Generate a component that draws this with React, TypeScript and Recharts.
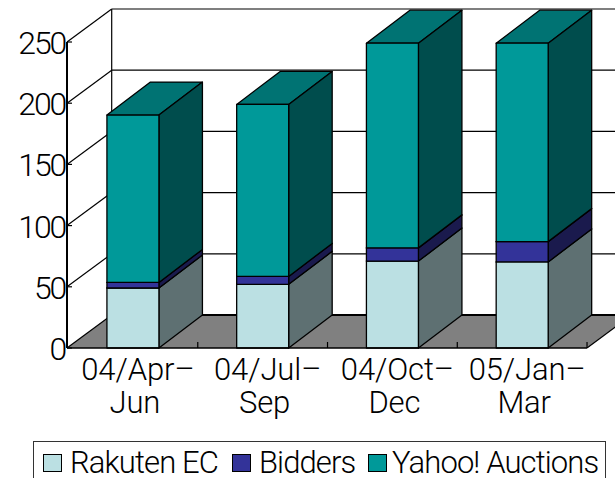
import React from 'react';
import { BarChart, Bar, XAxis, YAxis, CartesianGrid, Legend } from 'recharts';

const CATEGORIES = ['04/Apr–|Jun', '04/Jul–|Sep', '04/Oct–|Dec', '05/Jan–|Mar'];
const RAKUTEN = [49, 52, 71, 70.3];
const BIDDERS = [4.6, 6.5, 10.8, 16.6];
const YAHOO = [136.7, 140.5, 167.2, 162.1];
const Y_TICKS = [0, 50, 100, 150, 200, 250];

const WALL_X = 44.7;
const BAR_X = 43.5;
const DEPTH_Y = 33;
const BAND_HALF = 64.9;
const FONT = 'Roboto, sans-serif';
const LEGEND_SWATCH_X = [9, 198, 334];
const LEGEND_TEXT_X = [36, 225, 358];

const data = CATEGORIES.map((name, i) => ({
  name,
  rakuten: RAKUTEN[i],
  bidders: BIDDERS[i],
  yahoo: YAHOO[i],
}));

const box = (front: string, top: string, side: string) => (props: any) => {
  const { x, y, width: w, height: h } = props;
  const r = x + w;
  return (
    <g stroke="#000" strokeWidth={1.3} strokeLinejoin="round">
      <polygon points={`${x},${y} ${x + BAR_X},${y - DEPTH_Y} ${r + BAR_X},${y - DEPTH_Y} ${r},${y}`} fill={top} />
      <polygon points={`${r},${y} ${r + BAR_X},${y - DEPTH_Y} ${r + BAR_X},${y + h - DEPTH_Y} ${r},${y + h}`} fill={side} />
      <rect x={x} y={y} width={w} height={h} fill={front} />
    </g>
  );
};

// back wall, side wall and floor all hang off the horizontal grid lines
const wallLine = (props: any) => {
  const { x1, x2, y1, y, height } = props;
  const backY = y1 - DEPTH_Y;
  const isFloor = Math.abs(y1 - (y + height)) < 0.5;
  const isTop = Math.abs(y1 - y) < 0.5;
  return (
    <g key={`wall-${y1}`}>
      {isFloor && (
        <polygon
          points={`${x1},${y1} ${x1 + WALL_X},${backY} ${x2 + WALL_X},${backY} ${x2},${y1}`}
          fill="#808080"
          stroke="none"
        />
      )}
      <line x1={x1} y1={y1} x2={x1 + WALL_X} y2={backY} stroke="#000" strokeWidth={1.2} />
      <line x1={x1 + WALL_X} y1={backY} x2={x2 + WALL_X} y2={backY} stroke="#000" strokeWidth={isFloor ? 2 : 1.2} />
      {isFloor && <line x1={x2} y1={y1} x2={x2 + WALL_X} y2={backY} stroke="#000" strokeWidth={1.2} />}
      {isTop && <line x1={x1 + WALL_X} y1={backY} x2={x1 + WALL_X} y2={y + height - DEPTH_Y} stroke="#000" strokeWidth={1.2} />}
    </g>
  );
};

const YTick = ({ x, y, payload }: any) => (
  <g>
    <line x1={x + 2} x2={x + 7} y1={y} y2={y} stroke="#000" strokeWidth={1.2} />
    <text x={x} y={y + 12} textAnchor="end" fontFamily={FONT} fontWeight={300} fontSize={32} letterSpacing={-2.2} fill="#000">
      {payload.value}
    </text>
  </g>
);

const XTick = ({ x, y, payload }: any) => {
  const [first, second] = payload.value.split('|');
  return (
    <g>
      <line x1={x + BAND_HALF} x2={x + BAND_HALF} y1={y - 6} y2={y} stroke="#000" strokeWidth={1.2} />
      <text x={x + 5} y={y + 32} textAnchor="middle" fontFamily={FONT} fontWeight={300} fontSize={31} letterSpacing={-0.1} fill="#000">
        {first}
      </text>
      <text x={x + 2} y={y + 65} textAnchor="middle" fontFamily={FONT} fontWeight={300} fontSize={31} letterSpacing={-0.2} fill="#000">
        {second}
      </text>
    </g>
  );
};

const LegendBox = ({ payload }: any) => (
  <div
    style={{
      position: 'relative',
      width: 573,
      height: 37,
      boxSizing: 'border-box',
      border: '1.5px solid #333',
      borderBottom: 'none',
      background: '#fff',
      fontFamily: FONT,
      fontWeight: 300,
      fontSize: 31,
      letterSpacing: -0.9,
      color: '#000',
    }}
  >
    {(payload || []).map((item: any, i: number) => (
      <React.Fragment key={item.value}>
        <span
          style={{
            position: 'absolute',
            left: LEGEND_SWATCH_X[i],
            top: 12,
            width: 19,
            height: 18,
            boxSizing: 'border-box',
            border: '1px solid #000',
            background: item.color,
          }}
        />
        <span style={{ position: 'absolute', left: LEGEND_TEXT_X[i], top: 6, lineHeight: '29px', whiteSpace: 'nowrap' }}>
          {item.value}
        </span>
      </React.Fragment>
    ))}
  </div>
);

export default function App() {
  return (
    <div style={{ position: 'fixed', left: 0, top: 0, width: 615, height: 478, overflow: 'hidden', background: '#fff' }}>
      <BarChart
        width={615}
        height={478}
        data={data}
        barCategoryGap="30%"
        margin={{ top: 42, right: 28, bottom: 0, left: 0 }}
      >
        <CartesianGrid vertical={false} horizontal={wallLine} />
        <XAxis
          dataKey="name"
          height={130}
          padding={{ left: 1, right: 0 }}
          axisLine={{ stroke: '#000', strokeWidth: 1.5 }}
          tickLine={false}
          tickSize={0}
          tickMargin={0}
          interval={0}
          tick={<XTick />}
        />
        <YAxis
          width={67}
          domain={[0, 250]}
          ticks={Y_TICKS}
          interval={0}
          axisLine={{ stroke: '#000', strokeWidth: 2 }}
          tickLine={false}
          tickSize={0}
          tickMargin={2}
          tick={<YTick />}
        />
        <Legend
          layout="horizontal"
          verticalAlign="middle"
          align="center"
          itemSorter={null}
          content={<LegendBox />}
          wrapperStyle={{ position: 'absolute', left: 33, top: 441, width: 574, height: 37 }}
        />
        <Bar dataKey="rakuten" name="Rakuten EC" stackId="a" fill="#BBE0E3" shape={box('#BBE0E3', '#8CA8AA', '#5E7072')} isAnimationActive={false} />
        <Bar dataKey="bidders" name="Bidders" stackId="a" fill="#333399" shape={box('#333399', '#262673', '#1A1A4D')} isAnimationActive={false} />
        <Bar dataKey="yahoo" name="Yahoo! Auctions" stackId="a" fill="#009999" shape={box('#009999', '#007373', '#004D4D')} isAnimationActive={false} />
      </BarChart>
    </div>
  );
}
